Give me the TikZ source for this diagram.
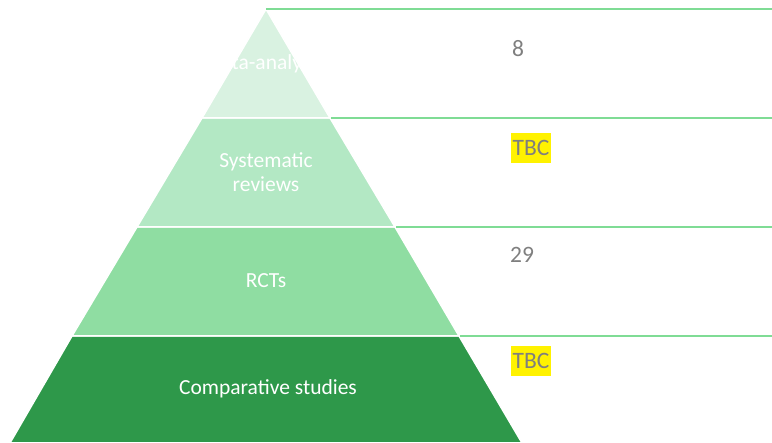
\documentclass[tikz,border=0pt]{standalone}
\usepackage{fontspec}
\setmainfont{Carlito}
\definecolor{lvA}{HTML}{D9F2E1}
\definecolor{lvB}{HTML}{B3E8C4}
\definecolor{lvC}{HTML}{8FDDA2}
\definecolor{lvD}{HTML}{2E984A}
\definecolor{rule}{HTML}{7FDC95}
\definecolor{numgray}{HTML}{7F7F7F}
\begin{document}
\begin{tikzpicture}[x=1pt,y=-1pt,
  layer/.style={draw=white,line width=1.5pt},
  lbl/.style={text=white,font=\fontsize{21.5}{24}\selectfont,align=center},
  num/.style={text=numgray,font=\fontsize{23.5}{26}\selectfont,inner sep=1.5pt},
  tbc/.style={num,fill=yellow,minimum height=30pt,inner xsep=1.5pt},
  guide/.style={draw=rule,line width=1.2pt}]
\useasboundingbox (0,0) rectangle (772,443);
% pyramid layers
\path[layer,fill=lvD] (72,336) -- (459,336) -- (522,443) -- (10,443) -- cycle;
\path[layer,fill=lvC] (137,227) -- (395,227) -- (459,336) -- (72,336) -- cycle;
\path[layer,fill=lvB] (202,118) -- (330,118) -- (395,227) -- (137,227) -- cycle;
\path[layer,fill=lvA] (266,9) -- (330,118) -- (202,118) -- cycle;
% guide lines
\coordinate (g0) at (266,9);   \coordinate (h0) at (772,9);
\coordinate (g1) at (331,118); \coordinate (h1) at (772,118);
\coordinate (g2) at (396,227); \coordinate (h2) at (772,227);
\coordinate (g3) at (460,336); \coordinate (h3) at (772,336);
\draw[guide] (g0) -- (h0);
\draw[guide] (g1) -- (h1);
\draw[guide] (g2) -- (h2);
\draw[guide] (g3) -- (h3);
% labels
\begin{scope}
\clip (266,9) -- (330,118) -- (202,118) -- cycle;
\node[lbl] (ma) at (266,64) {Meta-analyses};
\end{scope}
\node[lbl] (sr) at (266,172) {Systematic\\reviews};
\node[lbl] (rct) at (266,281) {RCTs};
\node[lbl] (cs) at (268,389) {Comparative studies};
% numbers
\node[num] (n1) at (518,49) {8};
\node[tbc] (n2) at (531,148) {TBC};
\node[num] (n3) at (522,255) {29};
\node[tbc] (n4) at (531,361) {TBC};
\end{tikzpicture}
\end{document}
